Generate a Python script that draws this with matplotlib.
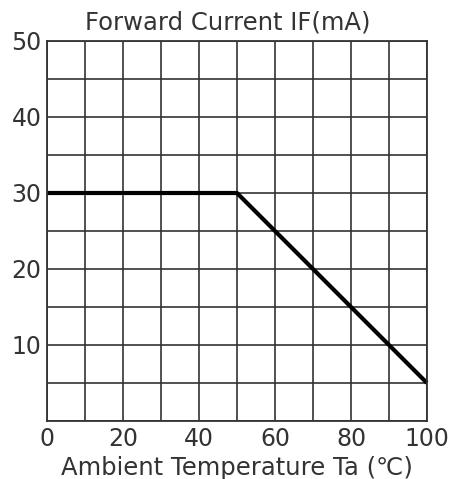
import matplotlib
matplotlib.use("Agg")
import matplotlib.pyplot as plt
import numpy as np

# derating curve
temp = [0, 50, 100]
current = [30, 30, 5]

x_grid = list(range(0, 101, 10))
y_grid = list(range(0, 51, 5))
x_labels = ["0", "", "20", "", "40", "", "60", "", "80", "", "100"]
y_labels = ["", "", "10", "", "20", "", "30", "", "40", "", "50"]

fig = plt.figure(figsize=(4.73, 4.79), dpi=100)
ax = fig.add_axes([47 / 473, 58 / 479, 380 / 473, 380 / 479])

ax.set_xlim(0, 100)
ax.set_ylim(0, 50)
ax.set_xticks(x_grid)
ax.set_xticklabels(x_labels)
ax.set_yticks(y_grid)
ax.set_yticklabels(y_labels)
ax.grid(color="#333333", lw=1.2)
ax.tick_params(length=0, labelsize=17, colors="#333333", pad=4)
for s in ax.spines.values():
    s.set_color("#333333")
    s.set_linewidth(1.3)

ax.plot(temp, current, color="black", lw=3, solid_capstyle="butt", clip_on=False)

ax.set_xlabel("Ambient Temperature Ta (℃)", fontsize=17.5, color="#333333", labelpad=4)
ax.set_title("Forward Current IF(mA)", fontsize=17.5, color="#333333", pad=8, x=0.475)

fig.savefig("out.png", dpi=100)
